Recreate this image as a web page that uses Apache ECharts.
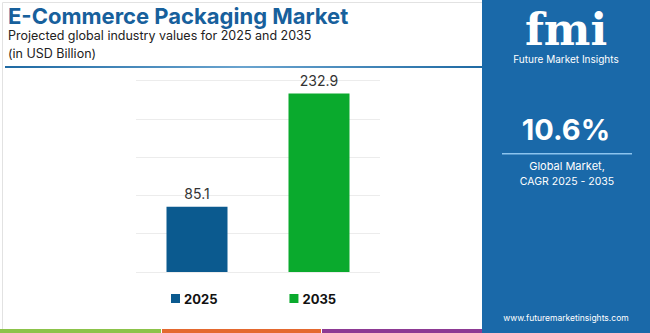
<!DOCTYPE html>
<html>
<head>
<meta charset="utf-8">
<script src="https://cdn.jsdelivr.net/npm/echarts@6/dist/echarts.min.js"></script>
<style>
html,body{margin:0;padding:0;background:#fff;}
#chart{width:650px;height:333px;}
</style>
</head>
<body>
<div id="chart"></div>
<script>
const categories = ['2025', '2035'];
const values = [85.1, 232.9];
const barColors = ['#0b5a8f', '#0aaa2d'];
const titleText = 'E-Commerce Packaging Market';
const subtitleText = 'Projected global industry values for 2025 and 2035';
const unitText = '(in USD Billion)';
const cagrText = '10.6%';
const cagrLabel = ['Global Market,', 'CAGR 2025 - 2035'];
const siteText = 'www.futuremarketinsights.com';

const chart = echarts.init(document.getElementById('chart'), null, {renderer: 'svg'});
const font = 'Inter, "Open Sans", sans-serif';
const panelBlue = '#1a69a9';

chart.setOption({
  animation: false,
  grid: {left: 136, right: 270, top: 80.5, bottom: 61},
  xAxis: {
    type: 'category', data: categories,
    axisLine: {show: false}, axisTick: {show: false}, axisLabel: {show: false}
  },
  yAxis: {
    type: 'value', min: 0, max: 250, interval: 50,
    axisLabel: {show: false}, axisLine: {show: false}, axisTick: {show: false},
    splitLine: {lineStyle: {color: '#ececec', width: 1}}
  },
  legend: {
    data: categories, left: 171, top: 292, padding: 0, itemWidth: 9, itemHeight: 9, itemGap: 72,
    icon: 'rect',
    textStyle: {fontFamily: font, fontWeight: 'bold', fontSize: 13, color: '#111', padding: [0,0,0,-1]}
  },
  series: categories.map((c, i) => ({
    name: c, type: 'bar', stack: 'all',
    data: categories.map((_, j) => j === i ? values[i] : '-'),
    barWidth: 61,
    itemStyle: {color: barColors[i]},
    label: {show: true, position: 'top', distance: 6, fontFamily: font, fontSize: 14, color: '#333',
      formatter: p => p.value}
  })),
  graphic: [
    {type: 'rect', left: 0, top: 0, shape: {width: 482, height: 333}, style: {fill: 'none', stroke: '#e2e2e2', lineWidth: 1}, silent: true},
    {type: 'text', x: 8, y: 15.5, style: {text: titleText, font: 'bold 22px ' + font, fill: '#17609c', textVerticalAlign: 'middle'}},
    {type: 'text', x: 8, y: 35, style: {text: subtitleText, font: '12.5px ' + font, fill: '#222', textVerticalAlign: 'middle'}},
    {type: 'text', x: 8, y: 53, style: {text: unitText, font: '12.5px ' + font, fill: '#222', textVerticalAlign: 'middle'}},
    {type: 'rect', shape: {x: 5, y: 66, width: 477, height: 2},
      style: {fill: new echarts.graphic.LinearGradient(0, 0, 1, 0, [
        {offset: 0, color: '#1f6aa3'}, {offset: 0.5, color: '#6aa4cf'}, {offset: 1, color: '#1f6aa3'}])}},
    {type: 'rect', shape: {x: 0, y: 329, width: 161, height: 4}, style: {fill: '#8cc34a'}},
    {type: 'rect', shape: {x: 162, y: 329, width: 159, height: 4}, style: {fill: '#e4692f'}},
    {type: 'rect', shape: {x: 322, y: 329, width: 160, height: 4}, style: {fill: '#8d3a94'}},
    {type: 'rect', shape: {x: 482, y: 0, width: 168, height: 333}, style: {fill: panelBlue}},
    {type: 'text', x: 566, y: 29, style: {text: 'fmi', font: 'bold 44px "DejaVu Serif", serif', fill: '#ffffff', textAlign: 'center', textVerticalAlign: 'middle'}},
    {type: 'text', x: 566, y: 59, style: {text: 'Future Market Insights', font: '10px ' + font, fill: '#ffffff', textAlign: 'center', textVerticalAlign: 'middle'}},
    {type: 'text', x: 566, y: 129, style: {text: cagrText, font: 'bold 29px ' + font, fill: '#ffffff', textAlign: 'center', textVerticalAlign: 'middle'}},
    {type: 'rect', shape: {x: 502, y: 153, width: 130, height: 1.5}, style: {fill: '#8cc4ee'}},
    {type: 'text', x: 567, y: 166, style: {text: cagrLabel[0], font: '11px ' + font, fill: '#ffffff', textAlign: 'center', textVerticalAlign: 'middle'}},
    {type: 'text', x: 567, y: 181, style: {text: cagrLabel[1], font: '10.5px ' + font, fill: '#ffffff', textAlign: 'center', textVerticalAlign: 'middle'}},
    {type: 'text', x: 566, y: 318, style: {text: siteText, font: '8.5px ' + font, fill: '#ffffff', textAlign: 'center', textVerticalAlign: 'middle'}}
  ]
});
</script>
</body>
</html>
